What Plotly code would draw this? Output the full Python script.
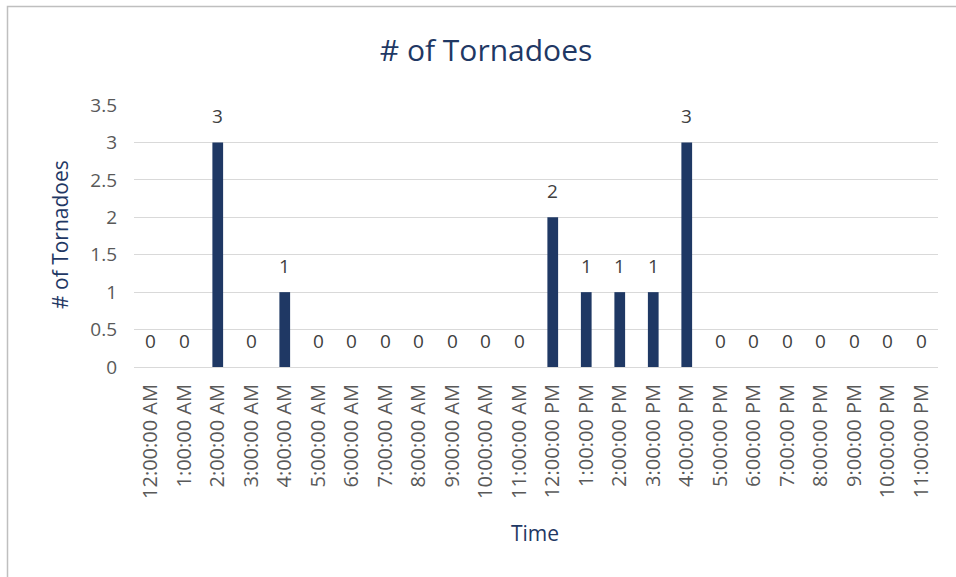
import plotly.graph_objects as go

times = ["12:00:00 AM", "1:00:00 AM", "2:00:00 AM", "3:00:00 AM", "4:00:00 AM",
         "5:00:00 AM", "6:00:00 AM", "7:00:00 AM", "8:00:00 AM", "9:00:00 AM",
         "10:00:00 AM", "11:00:00 AM", "12:00:00 PM", "1:00:00 PM", "2:00:00 PM",
         "3:00:00 PM", "4:00:00 PM", "5:00:00 PM", "6:00:00 PM", "7:00:00 PM",
         "8:00:00 PM", "9:00:00 PM", "10:00:00 PM", "11:00:00 PM"]
tornadoes = [0, 0, 3, 0, 1, 0, 0, 0, 0, 0, 0, 0, 2, 1, 1, 1, 3, 0, 0, 0, 0, 0, 0, 0]
y_ticks = [0, 0.5, 1, 1.5, 2, 2.5, 3, 3.5]

NAVY = "#1f3864"
GRAY_TXT = "#595959"
GRID = "#d9d9d9"
FONT = "'Open Sans', 'Noto Sans', sans-serif"

W, H = 956, 577
L, R, T, B = 134, 18, 105, 210
pw, ph = W - L - R, H - T - B

fig = go.Figure()
fig.add_trace(go.Bar(x=times, y=tornadoes, marker=dict(color=NAVY, line=dict(width=0)),
                     hoverinfo="x+y"))

annotations = []
for t, v in zip(times, tornadoes):
    annotations.append(dict(x=t, y=v, xref="x", yref="y", text=str(v), showarrow=False,
                            yanchor="middle", yshift=26,
                            font=dict(family=FONT, size=19, color="#404040")))

annotations.append(dict(text="Time", xref="paper", yref="paper", x=(535 - L) / pw,
                        y=(T + ph - 533) / ph, xanchor="center", yanchor="middle",
                        showarrow=False, font=dict(family=FONT, size=21, color=NAVY)))
annotations.append(dict(text="# of Tornadoes", xref="paper", yref="paper",
                        x=(60 - L) / pw, y=(T + ph - 235) / ph, xanchor="center",
                        yanchor="middle", textangle=-90, showarrow=False,
                        font=dict(family=FONT, size=21, color=NAVY)))

fig.update_layout(
    width=W, height=H,
    margin=dict(l=L, r=R, t=T, b=B, autoexpand=False),
    paper_bgcolor="white", plot_bgcolor="white",
    bargap=0.68,
    showlegend=False,
    title=dict(text="# of Tornadoes", x=486 / W, xref="container", xanchor="center",
               y=1 - 50 / H, yref="container", yanchor="middle",
               font=dict(family=FONT, size=30, color=NAVY)),
    xaxis=dict(tickangle=-90, tickfont=dict(family=FONT, size=20, color=GRAY_TXT),
               showline=True, linecolor=GRID, linewidth=1, ticks="",
               showgrid=False, ticklabelstandoff=8),
    yaxis=dict(range=[0, 3.5], tickvals=y_ticks, ticktext=[f"{v:g}" for v in y_ticks],
               tickfont=dict(family=FONT, size=19, color=GRAY_TXT),
               showgrid=True, gridcolor=GRID, gridwidth=1, zeroline=True,
               zerolinecolor=GRID, zerolinewidth=1, showline=False, ticks="",
               ticklabelstandoff=16),
    annotations=annotations,
    shapes=[dict(type="rect", xref="paper", yref="paper",
                 x0=(7.5 - L) / pw, x1=1.2, y0=-1.2, y1=1 + (T - 6.5) / ph,
                 line=dict(color="#bfbfbf", width=1.5), fillcolor="rgba(0,0,0,0)",
                 layer="below")],
)

fig.write_html("out.html", config={"displayModeBar": False},
               post_script="document.body.style.margin='0';document.body.style.overflow='hidden';")
